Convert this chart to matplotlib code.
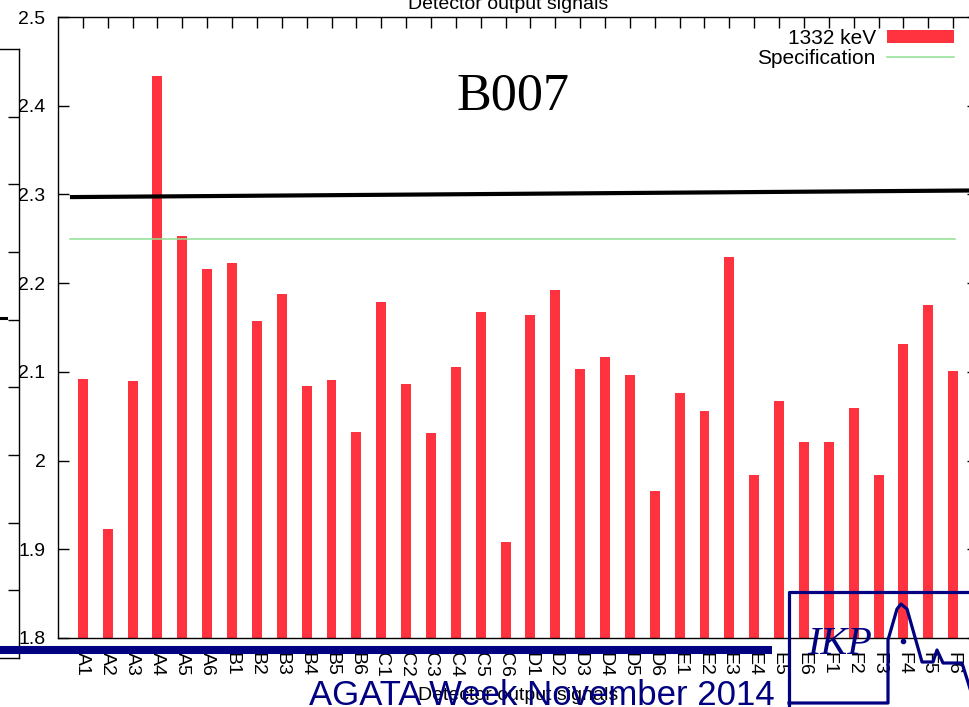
import matplotlib
matplotlib.use("Agg")
import matplotlib.pyplot as plt
from matplotlib.lines import Line2D
import numpy as np

# ---- data ----
channels = ["A1", "A2", "A3", "A4", "A5", "A6",
            "B1", "B2", "B3", "B4", "B5", "B6",
            "C1", "C2", "C3", "C4", "C5", "C6",
            "D1", "D2", "D3", "D4", "D5", "D6",
            "E1", "E2", "E3", "E4", "E5", "E6",
            "F1", "F2", "F3", "F4", "F5", "F6"]
signal_1332 = [2.092, 1.923, 2.090, 2.434, 2.253, 2.216,
               2.223, 2.157, 2.188, 2.084, 2.091, 2.032,
               2.179, 2.086, 2.031, 2.106, 2.168, 1.908,
               2.164, 2.192, 2.103, 2.117, 2.096, 1.966,
               2.076, 2.056, 2.230, 1.984, 2.067, 2.021,
               2.021, 2.059, 1.984, 2.131, 2.175, 2.101]
specification = 2.25
spec_x = [0.48, 36.08]
marker_x = [0.48, 37.0]
marker_y = [2.297, 2.3045]
yticks = [1.8, 1.9, 2.0, 2.1, 2.2, 2.3, 2.4, 2.5]
ytick_labels = ["1.8", "1.9", "2", "2.1", "2.2", "2.3", "2.4", "2.5"]

W, H = 970, 707
plt.rcParams['font.family'] = ['Liberation Sans', 'DejaVu Sans']

fig = plt.figure(figsize=(W / 100, H / 100), dpi=100)


def fx(px):
    return px / W


def fy(py):
    return 1 - py / H


# left partial frame (background plot of the slide)
ax2 = fig.add_axes([fx(-100), fy(658), fx(119), (658 - 49) / H])
ax2.set_xlim(0, 1)
ax2.set_ylim(0, 9)
ax2.set_xticks([])
ax2.set_yticks(range(1, 9))
ax2.yaxis.tick_right()
ax2.tick_params(axis='y', direction='in', length=8, width=1, labelright=False)
for s in ax2.spines.values():
    s.set_linewidth(1.0)

# main axes
ax = fig.add_axes([fx(58), fy(638), fx(978 - 58), (638 - 17) / H])
x = np.arange(1, len(channels) + 1)
bars = ax.bar(x, np.array(signal_1332) - 1.8, bottom=1.8, width=0.4,
              color='#ff333f', label='1332 keV', zorder=2)
spec_line, = ax.plot(spec_x, [specification, specification], color='#8fdf8f',
                     lw=1.1, label='Specification', zorder=3)
ax.plot(marker_x, marker_y, color='black', lw=3.0, zorder=4,
        solid_capstyle='butt')

ax.set_xlim(0, len(channels) + 1)
ax.set_ylim(1.8, 2.5)
ax.set_xticks(x)
ax.set_xticklabels(channels, rotation=270, fontsize=14)
ax.set_yticks(yticks)
ax.set_yticklabels(ytick_labels, fontsize=14)
ax.tick_params(axis='both', direction='in', length=8, width=1,
               top=True, right=True)
ax.tick_params(axis='y', pad=9)
ax.tick_params(axis='x', pad=10)
for s in ax.spines.values():
    s.set_linewidth(1.0)

ax.set_title('Detector output signals', fontsize=14, x=0.489, pad=6)
ax.set_xlabel('Detector output signals', fontsize=14)
ax.xaxis.set_label_coords(fx(518 - 58) / fx(920), -(695 - 638) / (638 - 17))
ax.xaxis.label.set_va('center')

ax.text(fx(513 - 58) / fx(920), (638 - 97) / (638 - 17), 'B007',
        transform=ax.transAxes, ha='center', va='center',
        fontsize=37.5, family='Liberation Serif')

leg = ax.legend([bars, spec_line], ['1332 keV', 'Specification'],
                loc='upper right', bbox_to_anchor=(fx(954), fy(29)),
                bbox_transform=fig.transFigure, frameon=False,
                markerfirst=False, fontsize=15, handlelength=3.2,
                handleheight=0.55, handletextpad=0.55, labelspacing=0.05,
                borderpad=0, borderaxespad=0)

# slide decorations
navy = '#000080'
fig.add_artist(Line2D([fx(0), fx(772)], [fy(650), fy(650)], color=navy,
                      lw=5.8, solid_capstyle='butt'))
fig.add_artist(Line2D([fx(0), fx(6)], [fy(318), fy(318)], color='black',
                      lw=2.2))
outline_x = [970, 789, 789, 789, 888, 888, 897, 901, 907, 922, 933, 937,
             943, 962, 972]
outline_y = [592, 592, 707, 703, 703, 640, 609, 604, 609, 662, 662, 650,
             663, 663, 695]
fig.add_artist(Line2D([fx(v) for v in outline_x[:3]],
                      [fy(v) for v in outline_y[:3]], color=navy, lw=2.3))
fig.add_artist(Line2D([fx(v) for v in outline_x[3:]],
                      [fy(v) for v in outline_y[3:]], color=navy, lw=2.3,
                      solid_joinstyle='round'))
fig.add_artist(Line2D([fx(903)], [fy(641)], color=navy, marker='o',
                      markersize=3, lw=0))
fig.text(fx(840), fy(645), 'IKP', ha='center', va='center', color=navy,
         fontsize=29, family='Liberation Serif', style='italic')
fig.text(fx(542), fy(705), 'AGATA Week November 2014', ha='center',
         va='baseline', color=navy, fontsize=25, family='Liberation Sans')

fig.savefig('out.png', dpi=100)
